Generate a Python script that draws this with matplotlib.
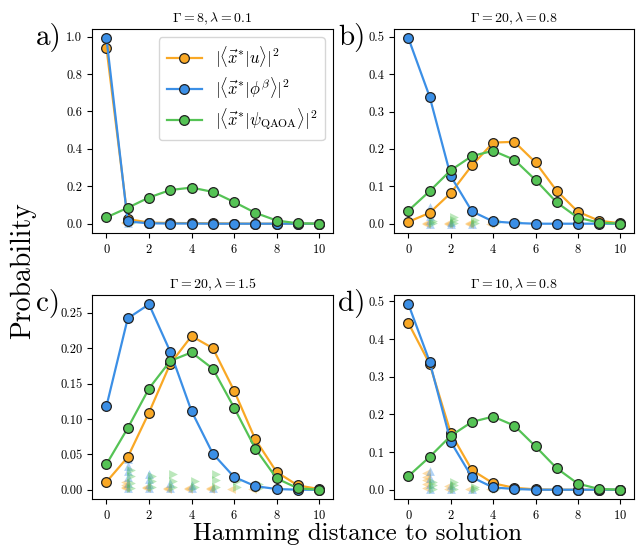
import matplotlib
matplotlib.use('Agg')
import matplotlib.pyplot as plt
import numpy as np

plt.rcParams['font.family'] = ['cmr10', 'DejaVu Serif']
plt.rcParams['mathtext.fontset'] = 'cm'
plt.rcParams['axes.formatter.use_mathtext'] = True

# %%
# Hamming distance
dist = np.arange(11)

# Panel a: Gamma=8, lambda=0.1
a_u = [0.940, 0.025, 0.006, 0.004, 0.003, 0.002, 0.001, 0.0, 0.0, 0.0, 0.0]
a_phi = [0.991, 0.012, 0.002, 0.001, 0.001, 0.0, 0.0, 0.0, 0.0, 0.0, 0.0]
a_qaoa = [0.034, 0.085, 0.140, 0.180, 0.193, 0.170, 0.116, 0.058, 0.017, 0.002, 0.0]

# Panel b: Gamma=20, lambda=0.8
b_u = [0.005, 0.029, 0.082, 0.156, 0.217, 0.219, 0.164, 0.088, 0.032, 0.008, 0.001]
b_phi = [0.496, 0.340, 0.127, 0.033, 0.006, 0.002, 0.0, 0.0, 0.0, 0.0, 0.0]
b_qaoa = [0.035, 0.087, 0.143, 0.181, 0.195, 0.171, 0.117, 0.057, 0.016, 0.003, 0.0]

# Panel c: Gamma=20, lambda=1.5
c_u = [0.011, 0.046, 0.109, 0.178, 0.217, 0.200, 0.140, 0.071, 0.025, 0.006, 0.001]
c_phi = [0.118, 0.242, 0.262, 0.195, 0.111, 0.051, 0.018, 0.005, 0.001, 0.0, 0.0]
c_qaoa = [0.036, 0.087, 0.143, 0.182, 0.194, 0.171, 0.116, 0.058, 0.016, 0.002, 0.0]

# Panel d: Gamma=10, lambda=0.8
d_u = [0.442, 0.334, 0.150, 0.052, 0.017, 0.005, 0.001, 0.0, 0.0, 0.0, 0.0]
d_phi = [0.492, 0.340, 0.127, 0.033, 0.006, 0.002, 0.0, 0.0, 0.0, 0.0, 0.0]
d_qaoa = [0.036, 0.087, 0.143, 0.180, 0.194, 0.170, 0.115, 0.057, 0.016, 0.002, 0.0]

# faint sample markers near the bottom: (x, y) per colour
a_tri_u = [(1, 0.004), (1, 0.010), (2, 0.002), (3, 0.001)]
a_tri_phi = [(1, 0.006), (2, 0.002)]
a_tri_qaoa = [(1, 0.005), (2, 0.004), (3, 0.003), (4, 0.003), (5, 0.003)]

b_tri_u = [(1, 0.0), (1, 0.002), (2, 0.0), (2, 0.003), (3, 0.0), (3, 0.002), (4, 0.0)]
b_tri_phi = [(1, 0.0), (1, 0.01), (1, 0.02), (1, 0.03), (1, 0.045), (2, 0.0), (2, 0.005), (3, 0.0)]
b_tri_qaoa = [(1, 0.002), (1, 0.008), (2, 0.002), (2, 0.01), (2, 0.018), (3, 0.003), (3, 0.01),
              (4, 0.003), (4, 0.01), (5, 0.004), (6, 0.003), (7, 0.002)]

c_tri_u = [(1, 0.002), (1, 0.004), (1, 0.007), (1, 0.011), (2, 0.002), (2, 0.004), (3, 0.001), (3, 0.003),
           (4, 0.001), (4, 0.002), (5, 0.001), (5, 0.002), (6, 0.001), (7, 0.001)]
c_tri_phi = [(1, 0.002), (1, 0.01), (1, 0.018), (1, 0.026), (1, 0.034), (1, 0.044), (2, 0.002), (2, 0.008),
             (2, 0.015), (2, 0.022), (3, 0.002), (3, 0.01), (4, 0.002), (4, 0.006), (5, 0.002)]
c_tri_qaoa = [(1, 0.003), (1, 0.01), (1, 0.02), (1, 0.028), (2, 0.004), (2, 0.012), (2, 0.02),
              (3, 0.004), (3, 0.012), (3, 0.022), (4, 0.004), (4, 0.012), (5, 0.004), (5, 0.014),
              (5, 0.022), (6, 0.004), (6, 0.012), (7, 0.003), (7, 0.008)]

d_tri_u = [(1, 0.004), (1, 0.015), (1, 0.025), (1, 0.035), (1, 0.045), (2, 0.003), (2, 0.01),
           (3, 0.002), (4, 0.001)]
d_tri_phi = [(1, 0.003), (1, 0.015), (1, 0.03), (1, 0.05), (2, 0.003), (2, 0.012), (3, 0.002)]
d_tri_qaoa = [(1, 0.003), (1, 0.012), (1, 0.02), (2, 0.003), (2, 0.012), (2, 0.02), (3, 0.003),
              (3, 0.008), (4, 0.003), (5, 0.003)]

titles = [r'$\Gamma = 8, \lambda = 0.1$', r'$\Gamma = 20, \lambda = 0.8$',
          r'$\Gamma = 20, \lambda = 1.5$', r'$\Gamma = 10, \lambda = 0.8$']
letters = ['a)', 'b)', 'c)', 'd)']
yticks = [np.arange(0, 1.01, 0.2), np.arange(0, 0.51, 0.1),
          np.arange(0, 0.251, 0.05), np.arange(0, 0.51, 0.1)]
ytickfmt = ['%.1f', '%.1f', '%.2f', '%.1f']
labels = [r'$|\langle \vec{x}^{*}|u\rangle|^2$',
          r'$|\langle \vec{x}^{*}|\phi^{\beta}\rangle|^2$',
          r'$|\langle \vec{x}^{*}|\psi_{\rm QAOA}\rangle|^2$']

col_u = '#F9A825'
col_phi = '#3B8FE6'
col_qaoa = '#55C355'

# %%
fig = plt.figure(figsize=(6.41, 5.46), dpi=100, facecolor='white')
pos = [[0.1435, 0.5733, 0.376, 0.3736], [0.6147, 0.5733, 0.3744, 0.3736],
       [0.1435, 0.0861, 0.376, 0.3736], [0.6147, 0.0861, 0.3744, 0.3736]]
lines = [(a_u, a_phi, a_qaoa), (b_u, b_phi, b_qaoa), (c_u, c_phi, c_qaoa), (d_u, d_phi, d_qaoa)]
tris = [(a_tri_u, a_tri_phi, a_tri_qaoa), (b_tri_u, b_tri_phi, b_tri_qaoa),
        (c_tri_u, c_tri_phi, c_tri_qaoa), (d_tri_u, d_tri_phi, d_tri_qaoa)]

for i in range(4):
    ax = fig.add_axes(pos[i])
    # faint markers first
    for pts, col, mk, off in zip(tris[i], [col_u, col_phi, col_qaoa], ['<', '^', '>'],
                                 [-0.15, 0.0, 0.15]):
        pts = np.array(pts)
        ax.scatter(pts[:, 0] + off, pts[:, 1], marker=mk, s=40, color=col,
                   alpha=0.4, linewidths=0, zorder=1)
    for y, col, lab in zip(lines[i], [col_u, col_phi, col_qaoa], labels):
        ax.plot(dist, y, '-o', color=col, lw=1.6, ms=7, mec='#222222', mew=0.9,
                label=lab, zorder=3)
    ax.set_xlim(-0.68, 10.65)
    ax.set_xticks(np.arange(0, 11, 2))
    ax.set_yticks(yticks[i])
    ax.set_yticklabels([ytickfmt[i] % v for v in yticks[i]])
    ax.tick_params(labelsize=9)
    ax.set_title(titles[i], fontsize=10, pad=5)
    bb = pos[i]
    fig.text(bb[0] - 0.087, bb[1] + bb[3] - 0.015, letters[i], fontsize=21,
             ha='left', va='center')
    if i == 0:
        ax.legend(loc='upper right', fontsize=12, handlelength=2.1,
                  borderpad=0.45, labelspacing=0.35)

fig.text(0.036, 0.505, 'Probability', rotation=90, fontsize=20, ha='center', va='center')
fig.text(0.558, 0.022, 'Hamming distance to solution', fontsize=18, ha='center', va='center')

fig.savefig('out.png', dpi=100, facecolor='white')
